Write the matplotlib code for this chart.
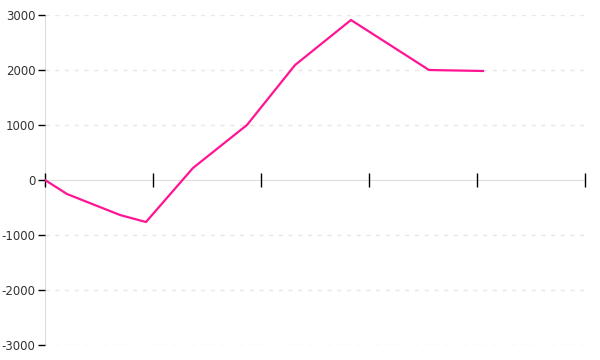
import matplotlib
matplotlib.use("Agg")
import matplotlib.pyplot as plt

# values (x in tick units, y in data units)
x = [0.0, 0.204, 0.694, 0.935, 1.370, 1.870, 2.315, 2.833, 3.556, 3.806, 4.056]
y = [0, -255, -636, -764, 218, 1000, 2090, 2909, 2000, 1991, 1982]
yticks = [-3000, -2000, -1000, 0, 1000, 2000, 3000]
xticks = [0, 1, 2, 3, 4, 5]

fig = plt.figure(figsize=(6, 3.6), dpi=100)
ax = fig.add_axes([45 / 600, 15 / 360, 540 / 600, 330 / 360])

for v in yticks:
    if v != 0:
        ax.axhline(v, color="#e6e6e6", lw=1, ls=(0, (3, 4)), zorder=0)

ax.plot(x, y, color="#ff1493", lw=1.6, zorder=3)

ax.set_xlim(0, 5)
ax.set_ylim(-3000, 3000)
ax.set_xticks(xticks)
ax.set_xticklabels([])
ax.set_yticks(yticks)
ax.set_yticklabels([str(v) for v in yticks])

for s in ("top", "right"):
    ax.spines[s].set_visible(False)
ax.spines["bottom"].set_position(("data", 0))
ax.spines["bottom"].set_color("#dddddd")
ax.spines["left"].set_color("#dddddd")
ax.spines["left"].set_zorder(0.5)
ax.spines["bottom"].set_zorder(0.5)
ax.tick_params(axis="x", direction="inout", length=10, width=1, color="black")
ax.tick_params(axis="y", direction="out", length=5, width=1, color="black",
               labelsize=8.5, labelcolor="#333333", pad=2)
for t in ax.xaxis.get_major_ticks():
    t.tick1line.set_clip_on(False)
    t.tick1line.set_zorder(4)

fig.savefig("out.png", dpi=100)
